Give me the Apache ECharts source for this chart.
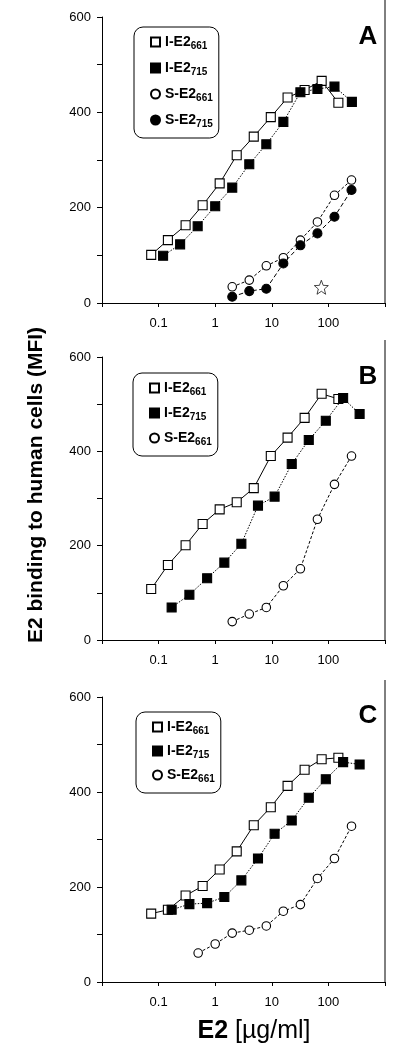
<!DOCTYPE html>
<html>
<head>
<meta charset="utf-8">
<script src="https://cdn.jsdelivr.net/npm/echarts@6/dist/echarts.min.js"></script>
<style>html,body{margin:0;padding:0;background:#fff}#c{width:400px;height:1059px}</style>
</head>
<body>
<div id="c"></div>
<script>
// ---- data (x in µg/ml, y in MFI) ----
const panelLabels = ['A', 'B', 'C'];
const seriesNames = ['I-E2661', 'I-E2715', 'S-E2661', 'S-E2715'];
const xTickLabels = ['0.1', '1', '10', '100'];
const yTickLabels = ['0', '200', '400', '600'];

const xI661 = [0.074, 0.146, 0.3, 0.6, 1.2, 2.4, 4.8, 9.6, 19, 38, 76, 150];
const xI715A = [0.12, 0.24, 0.49, 1.0, 2.0, 4.0, 8.0, 16, 32, 64, 128, 260];
const xI715BC = [0.17, 0.35, 0.72, 1.45, 2.9, 5.7, 11.2, 22.5, 45, 90, 182, 356];
const xS = [2, 4, 8, 16, 32, 64, 128, 256];
const xSC = [0.5, 1, 2, 4, 8, 16, 32, 64, 128, 256];

const A_I661 = [101, 132, 163, 205, 251, 310, 349, 390, 431, 447, 466, 420];
const A_I715 = [99, 123, 161, 203, 242, 291, 333, 380, 442, 449, 454, 422];
const A_S661 = [34, 48, 78, 95, 132, 170, 226, 258];
const A_S715 = [13, 25, 30, 83, 121, 146, 181, 237];
const starX = [75];
const starY = [33];

const B_I661 = [108, 159, 201, 246, 277, 292, 322, 390, 429, 471, 522, 511];
const B_I715 = [69, 96, 131, 164, 204, 285, 304, 373, 424, 465, 513, 479];
const B_S661 = [39, 55, 69, 115, 151, 256, 330, 390];

const C_I661 = [144, 152, 182, 202, 237, 275, 330, 368, 413, 447, 469, 472];
const C_I715 = [152, 164, 166, 179, 214, 260, 312, 340, 388, 427, 463, 458];
const C_S661 = [61, 80, 103, 109, 118, 149, 163, 218, 260, 328];

// ---- layout ----
const FONT = 'Liberation Sans, Arial, Helvetica, sans-serif';
const grids = [
  { left: 102, width: 283, top: 17, height: 286 },
  { left: 102, width: 283, top: 357, height: 283 },
  { left: 102, width: 283, top: 697, height: 285 }
];
const legendPos = [
  { left: 134, top: 27, gap: 10 },
  { left: 133, top: 373, gap: 9 },
  { left: 136, top: 712, gap: 8 }
];

const zip = (xs, ys) => xs.map((x, i) => [x, ys[i]]);

const styles = {
  'I-E2661': { symbol: 'rect', fill: '#fff', line: 'solid', size: 9 },
  'I-E2715': { symbol: 'rect', fill: '#000', line: [1.5, 1.5], size: 9 },
  'S-E2661': { symbol: 'circle', fill: '#fff', line: [3, 2], size: 8.5 },
  'S-E2715': { symbol: 'circle', fill: '#000', line: [4.5, 2.5], size: 9 }
};

function mk(name, idx, xs, ys) {
  const s = styles[name];
  return {
    name: name, type: 'line', xAxisIndex: idx, yAxisIndex: idx,
    data: zip(xs, ys),
    symbol: s.symbol, symbolSize: s.size, showAllSymbol: true,
    lineStyle: { color: '#000', width: 1, type: s.line },
    itemStyle: { color: s.fill, borderColor: '#000', borderWidth: 1.1 },
    emphasis: { disabled: true },
    z: 3
  };
}

const series = [
  mk('I-E2661', 0, xI661, A_I661),
  mk('I-E2715', 0, xI715A, A_I715),
  mk('S-E2661', 0, xS, A_S661),
  mk('S-E2715', 0, xS, A_S715),
  {
    type: 'scatter', xAxisIndex: 0, yAxisIndex: 0, data: zip(starX, starY),
    symbol: 'path://M12,1 L14.9,8.6 L23,9 L16.7,14.1 L18.8,22 L12,17.5 L5.2,22 L7.3,14.1 L1,9 L9.1,8.6 Z',
    symbolSize: 14, itemStyle: { color: '#fff', borderColor: '#000', borderWidth: 0.9 },
    emphasis: { disabled: true }, z: 3
  },
  mk('I-E2661', 1, xI661, B_I661),
  mk('I-E2715', 1, xI715BC, B_I715),
  mk('S-E2661', 1, xS, B_S661),
  mk('I-E2661', 2, xI661, C_I661),
  mk('I-E2715', 2, xI715BC, C_I715),
  mk('S-E2661', 2, xSC, C_S661)
];

const axisColor = '#000';
const xAxes = grids.map((g, i) => ({
  type: 'log', logBase: 10, gridIndex: i, min: 0.01, max: 1000,
  axisLine: { show: true, lineStyle: { color: axisColor, width: 1 } },
  axisTick: { show: true, length: 4, lineStyle: { color: axisColor } },
  splitLine: { show: false },
  axisLabel: {
    margin: 14, fontSize: 13, fontFamily: FONT, color: '#000',
    formatter: v => { const s = String(+v.toPrecision(3)); return xTickLabels.indexOf(s) >= 0 ? s : ''; }
  }
}));
const yAxes = grids.map((g, i) => ({
  type: 'value', gridIndex: i, min: 0, max: 600, interval: 100,
  axisLine: { show: true, lineStyle: { color: axisColor, width: 1 } },
  axisTick: { show: true, length: 5, lineStyle: { color: axisColor } },
  splitLine: { show: false },
  axisLabel: {
    margin: 11, fontSize: 13, fontFamily: FONT, color: '#000',
    formatter: v => yTickLabels.indexOf(String(v)) >= 0 ? String(v) : ''
  }
}));

const legendNames = [seriesNames, seriesNames.slice(0, 3), seriesNames.slice(0, 3)];
const legends = legendPos.map((p, i) => ({
  orient: 'vertical', left: p.left, top: p.top, itemGap: p.gap,
  itemWidth: 9, itemHeight: 9,
  padding: [8, 6, 9, 16],
  backgroundColor: '#fff', borderColor: '#000', borderWidth: 1, borderRadius: 9,
  selectedMode: false,
  data: legendNames[i].map(n => ({ name: n, icon: styles[n].symbol })),
  formatter: n => n.replace(/^(.*E2)(\d+)$/, '{b|$1}{s|$2}'),
  textStyle: {
    fontFamily: FONT,
    rich: {
      b: { fontSize: 14, fontWeight: 'bold', color: '#000', fontFamily: FONT, lineHeight: 18 },
      s: { fontSize: 10, fontWeight: 'bold', color: '#000', fontFamily: FONT, verticalAlign: 'bottom', lineHeight: 18 }
    }
  }
}));

const letterPos = [[368, 37], [368, 377], [368, 716]];
const graphic = [];
letterPos.forEach((p, i) => graphic.push({
  type: 'text', x: p[0], y: p[1], z: 10,
  style: { text: panelLabels[i], font: 'bold 26px ' + FONT, fill: '#000', textAlign: 'center', textVerticalAlign: 'middle' }
}));
grids.forEach(g => graphic.push({
  type: 'line', z: 1,
  shape: { x1: g.left + g.width, y1: g.top - 17, x2: g.left + g.width, y2: g.top + g.height },
  style: { stroke: axisColor, lineWidth: 1 }
}));
graphic.push({
  type: 'text', x: 36, y: 485, rotation: Math.PI / 2,
  style: { text: 'E2 binding to human cells (MFI)', font: 'bold 21px ' + FONT, fill: '#000', textAlign: 'center', textVerticalAlign: 'middle' }
});
graphic.push({
  type: 'text', x: 254, y: 1031,
  style: {
    text: '{b|E2 }{n|[µg/ml]}', textAlign: 'center', textVerticalAlign: 'middle',
    rich: {
      b: { font: 'bold 25px ' + FONT, fill: '#000' },
      n: { font: '25px ' + FONT, fill: '#000' }
    }
  }
});

const chart = echarts.init(document.getElementById('c'), null, { renderer: 'canvas' });
chart.setOption({
  animation: false,
  backgroundColor: '#fff',
  grid: grids,
  xAxis: xAxes,
  yAxis: yAxes,
  legend: legends,
  series: series,
  graphic: graphic
});
</script>
</body>
</html>
